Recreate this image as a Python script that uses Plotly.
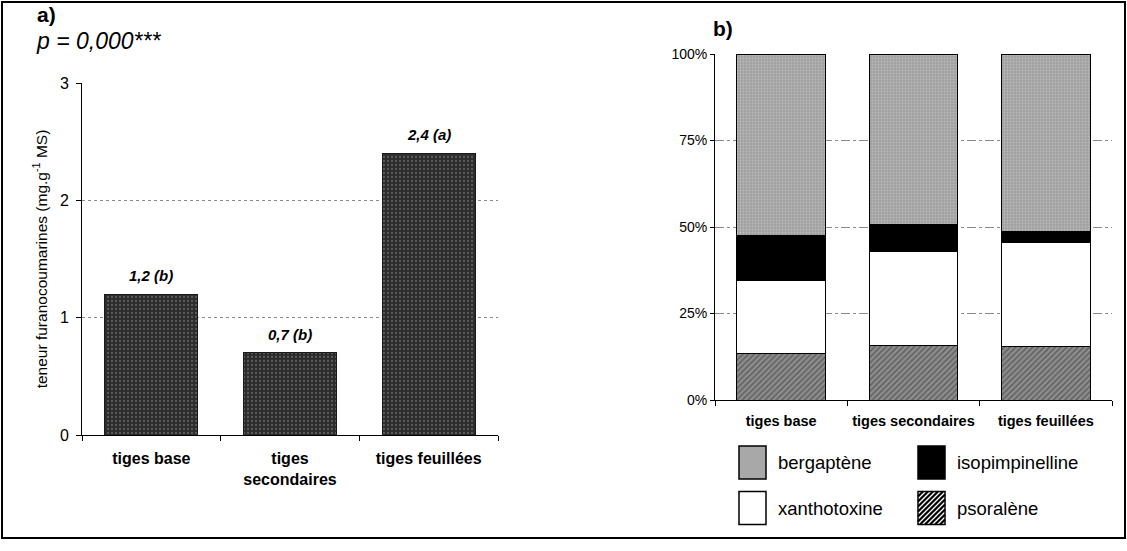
import plotly.graph_objects as go

# ---------------- data ----------------
categories_a = ["tiges base", "tiges<br>secondaires", "tiges feuillées"]
teneur = [1.2, 0.7, 2.4]
labels_a = ["1,2 (b)", "0,7 (b)", "2,4 (a)"]
p_text = "p = 0,000***"

categories_b = ["tiges base", "tiges secondaires", "tiges feuillées"]
psoralene = [13.3, 15.7, 15.5]
xanthotoxine = [21.1, 27.2, 30.1]
isopimpinelline = [13.1, 7.8, 3.2]
bergaptene = [52.5, 49.3, 51.2]

W, H = 1127, 551
FONT = "Liberation Sans, Arial, sans-serif"


def px(x):
    return x / W


def py(y):
    return 1 - y / H


fig = go.Figure()

# ---------------- panel a ----------------
fig.add_trace(go.Bar(
    x=categories_a, y=teneur, xaxis="x", yaxis="y",
    marker=dict(color="#3a3a3a", line=dict(color="#1a1a1a", width=1),
                pattern=dict(shape=".", fgcolor="#8c8c8c", bgcolor="#2c2c2c",
                             size=4, solidity=0.25)),
    showlegend=False, hoverinfo="x+y",
))

for c, v, t in zip(categories_a, teneur, labels_a):
    fig.add_annotation(x=c, y=v, xref="x", yref="y", text="<b><i>%s</i></b>" % t,
                       showarrow=False, yanchor="bottom", yshift=8,
                       font=dict(family=FONT, size=15, color="black"))

# ---------------- panel b ----------------
series_b = [
    ("psoralène", psoralene, dict(color="#7a7a7a", line=dict(color="black", width=1),
                                  pattern=dict(shape="/", fgcolor="#333333", bgcolor="#8e8e8e",
                                               size=4, solidity=0.4))),
    ("xanthotoxine", xanthotoxine, dict(color="white", line=dict(color="black", width=1))),
    ("isopimpinelline", isopimpinelline, dict(color="black", line=dict(color="black", width=1))),
    ("bergaptène", bergaptene, dict(color="#a8a8a8", line=dict(color="black", width=1),
                                    pattern=dict(shape=".", fgcolor="#d8d8d8", bgcolor="#a0a0a0",
                                                 size=3, solidity=0.3))),
]
for name, vals, marker in series_b:
    fig.add_trace(go.Bar(
        x=categories_b, y=[v / 100 for v in vals], name=name,
        xaxis="x2", yaxis="y2", marker=marker, showlegend=False,
    ))

# ---------------- manual legend (2 x 2) ----------------
legend_items = [
    ("bergaptène", "#a8a8a8", None),
    ("isopimpinelline", "black", None),
    ("xanthotoxine", "white", None),
    ("psoralène", "white", "hatch"),
]
lx0, ly0 = 739, 446      # top-left of first swatch (pixels)
col_dx, row_dy = 179, 45.5
sw_w, sw_h = 27, 33
shapes = []
for i, (name, col, kind) in enumerate(legend_items):
    cx = lx0 + (i % 2) * col_dx
    cy = ly0 + (i // 2) * row_dy
    shapes.append(dict(type="rect", xref="paper", yref="paper",
                       x0=px(cx), x1=px(cx + sw_w), y0=py(cy + sw_h), y1=py(cy),
                       fillcolor=col, line=dict(color="black", width=1.5)))
    if kind == "hatch":
        path = ""
        step = 5
        # diagonal "/" lines clipped to the swatch box
        for k in range(-sw_h, sw_w, step):
            # line x - cx = k + (cy + sw_h - y)
            pts = []
            for t in range(0, sw_h + 1):
                xx = cx + k + t
                yy = cy + sw_h - t
                if cx <= xx <= cx + sw_w:
                    pts.append((xx, yy))
            if len(pts) >= 2:
                (xa, ya), (xb, yb) = pts[0], pts[-1]
                path += "M%.5f,%.5f L%.5f,%.5f " % (px(xa), py(ya), px(xb), py(yb))
        shapes.append(dict(type="path", xref="paper", yref="paper", path=path,
                           line=dict(color="black", width=2.2)))
    fig.add_annotation(x=px(cx + sw_w + 10), y=py(cy + sw_h / 2), xref="paper", yref="paper",
                       text=name, showarrow=False, xanchor="left", yanchor="middle",
                       font=dict(family=FONT, size=18.5, color="black"))

# outer frame
shapes.append(dict(type="rect", xref="paper", yref="paper",
                   x0=px(2), x1=px(1125), y0=py(538), y1=py(2),
                   line=dict(color="black", width=2), fillcolor="rgba(0,0,0,0)", layer="below"))

# titles
fig.add_annotation(x=px(35), y=py(14), xref="paper", yref="paper", text="<b>a)</b>",
                   showarrow=False, xanchor="left", yanchor="middle",
                   font=dict(family=FONT, size=21, color="black"))
fig.add_annotation(x=px(34), y=py(41), xref="paper", yref="paper", text="<i>%s</i>" % p_text,
                   showarrow=False, xanchor="left", yanchor="middle",
                   font=dict(family=FONT, size=23, color="black"))
fig.add_annotation(x=px(711), y=py(28), xref="paper", yref="paper", text="<b>b)</b>",
                   showarrow=False, xanchor="left", yanchor="middle",
                   font=dict(family=FONT, size=21, color="black"))

fig.update_layout(
    width=W, height=H,
    margin=dict(l=0, r=0, t=0, b=0, autoexpand=False),
    paper_bgcolor="white", plot_bgcolor="white",
    barmode="stack", bargap=0.33,
    font=dict(family=FONT, color="black"),
    showlegend=False,
    shapes=shapes,
    xaxis=dict(domain=[px(82), px(498)], anchor="y", type="category", automargin=False,
               showline=True, linecolor="black", linewidth=1,
               ticks="outside", ticklen=5, tickcolor="black", tickson="boundaries",
               ticklabelstandoff=9,
               tickfont=dict(family=FONT, size=16, color="black"),
               showgrid=False, zeroline=False),
    yaxis=dict(domain=[py(435), py(83)], anchor="x", range=[0, 3], dtick=1, automargin=False,
               showline=True, linecolor="black", linewidth=1,
               ticks="outside", ticklen=5, tickcolor="black",
               ticklabelstandoff=4,
               tickfont=dict(family=FONT, size=16, color="black"),
               showgrid=True, gridcolor="#8a8a8a", griddash="dot", gridwidth=1,
               zeroline=False,
               title=dict(text="teneur furanocoumarines (mg.g<sup>-1</sup> MS)",
                          font=dict(family=FONT, size=15.5, color="black"), standoff=8)),
    xaxis2=dict(domain=[px(715), px(1112)], anchor="y2", type="category", automargin=False,
                showline=True, linecolor="black", linewidth=1,
                ticks="outside", ticklen=5, tickcolor="black", tickson="boundaries",
                ticklabelstandoff=8,
                tickfont=dict(family=FONT, size=14.5, color="black"),
                showgrid=False, zeroline=False),
    yaxis2=dict(domain=[py(400), py(54)], anchor="x2", range=[0, 1], dtick=0.25, automargin=False,
                tickformat=".0%",
                showline=True, linecolor="black", linewidth=1,
                ticks="outside", ticklen=4, tickcolor="black",
                tickfont=dict(family=FONT, size=14, color="black"),
                showgrid=True, gridcolor="#8a8a8a", griddash="dashdot", gridwidth=1,
                zeroline=False),
)

# bold category tick labels
fig.update_xaxes(ticktext=["<b>%s</b>" % c for c in categories_a], tickvals=categories_a,
                 selector=dict(anchor="y"))
fig.update_xaxes(ticktext=["<b>%s</b>" % c for c in categories_b], tickvals=categories_b,
                 selector=dict(anchor="y2"))

fig.write_html("out.html", config={"displayModeBar": False},
               post_script="document.body.style.margin='0';document.body.style.overflow='hidden';")
